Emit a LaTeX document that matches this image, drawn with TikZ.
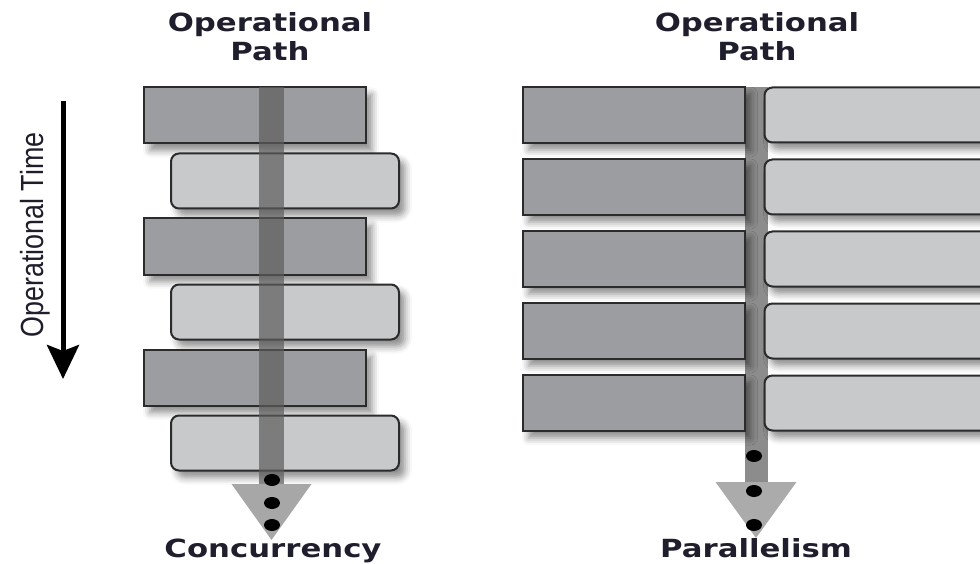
\documentclass[tikz,border=0pt]{standalone}
\usepackage{fontspec}
\usepackage{tikz}
\usetikzlibrary{shapes.geometric, arrows.meta, positioning, shadows.blur}

\newfontfamily\headfont{DejaVu Sans}[FakeStretch=1.23]
\newfontfamily\timefont{Liberation Sans}[FakeStretch=0.84]

\definecolor{inkdark}{HTML}{1E1E2C}
\definecolor{boxdark}{HTML}{9C9DA0}
\definecolor{boxlight}{HTML}{C8C9CB}
\definecolor{edgegray}{HTML}{2B2B2B}

\begin{document}
\begin{tikzpicture}[
    x=1pt, y=-1pt,
    boxshadow/.style={blur shadow={shadow xshift=6pt, shadow yshift=-7pt, shadow blur radius=7pt, shadow opacity=45}},
    darkbox/.style={rectangle, minimum width=222pt, minimum height=56pt, inner sep=0pt, draw=edgegray, line width=2pt, fill=boxdark, boxshadow},
    lightbox/.style={rectangle, rounded corners=8pt, minimum width=228pt, minimum height=55pt, inner sep=0pt, draw=edgegray, line width=2pt, fill=boxlight, boxshadow},
    heading/.style={font=\headfont\bfseries\fontsize{25}{29}\selectfont, text=inkdark, align=center, inner sep=0pt},
    timelabel/.style={font=\timefont\fontsize{32}{36}\selectfont, text=inkdark, inner sep=0pt},
    timearrow/.style={line width=5pt, draw=black, -{Stealth[width=32pt, length=34pt, inset=6pt]}},
    cpath/.style={line width=25pt, draw=black!64, opacity=0.7, -{Triangle[width=80pt, length=56pt, line width=0pt, color=black!49]}},
    ppath/.style={line width=23pt, draw=black!45, -{Triangle[width=81pt, length=56pt, line width=0pt, color=black!33]}},
    pathdot/.style={ellipse, fill=black, minimum width=16pt, minimum height=12pt, inner sep=0pt},
]
    \useasboundingbox (0,0) rectangle (980,564);

    % headings
    \node (chead) [heading, anchor=base] at (270,61) {Operational\\Path};
    \node (phead) [heading, anchor=base] at (757,61) {Operational\\Path};

    % operational time
    \coordinate (ttop) at (63,101);
    \coordinate (tbot) at (63,379);
    \draw [timearrow] (ttop) -- (tbot);
    \node (tlabel) [timelabel, rotate=90, anchor=base] at (43,235) {Operational Time};

    % concurrency: one path, tasks interleaved
    \node (cdark1) [darkbox] at (255,115.5) {};
    \node (clight1) [lightbox, below=8pt of cdark1, xshift=30pt] {};
    \node (cdark2) [darkbox, below=8pt of clight1, xshift=-30pt] {};
    \node (clight2) [lightbox, below=8pt of cdark2, xshift=30pt] {};
    \node (cdark3) [darkbox, below=8pt of clight2, xshift=-30pt] {};
    \node (clight3) [lightbox, below=8pt of cdark3, xshift=30pt] {};

    \coordinate (ctop) at (271.5,87);
    \coordinate (ctip) at (271.5,540);
    \draw [cpath] (ctop) -- (ctip);

    \node (cdot1) [pathdot] at (272,480) {};
    \node (cdot2) [pathdot] at (272,503) {};
    \node (cdot3) [pathdot] at (272,525) {};
    \node (cname) [heading, anchor=base] at (273,557) {Concurrency};

    % parallelism: tasks side by side
    \coordinate (ptop) at (756,87);
    \coordinate (ptip) at (756,538);
    \draw [ppath] (ptop) -- (ptip);

    \node (pdark1) [darkbox] at (633.5,115) {};
    \node (pdark2) [darkbox, below=14pt of pdark1] {};
    \node (pdark3) [darkbox, below=14pt of pdark2] {};
    \node (pdark4) [darkbox, below=14pt of pdark3] {};
    \node (pdark5) [darkbox, below=14pt of pdark4] {};
    \node (plight1) [lightbox, right=18pt of pdark1] {};
    \node (plight2) [lightbox, right=18pt of pdark2] {};
    \node (plight3) [lightbox, right=18pt of pdark3] {};
    \node (plight4) [lightbox, right=18pt of pdark4] {};
    \node (plight5) [lightbox, right=18pt of pdark5] {};

    \node (pdot1) [pathdot] at (754,456) {};
    \node (pdot2) [pathdot] at (754,491) {};
    \node (pdot3) [pathdot] at (754,525) {};
    \node (pname) [heading, anchor=base] at (756,557) {Parallelism};

\end{tikzpicture}
\end{document}
